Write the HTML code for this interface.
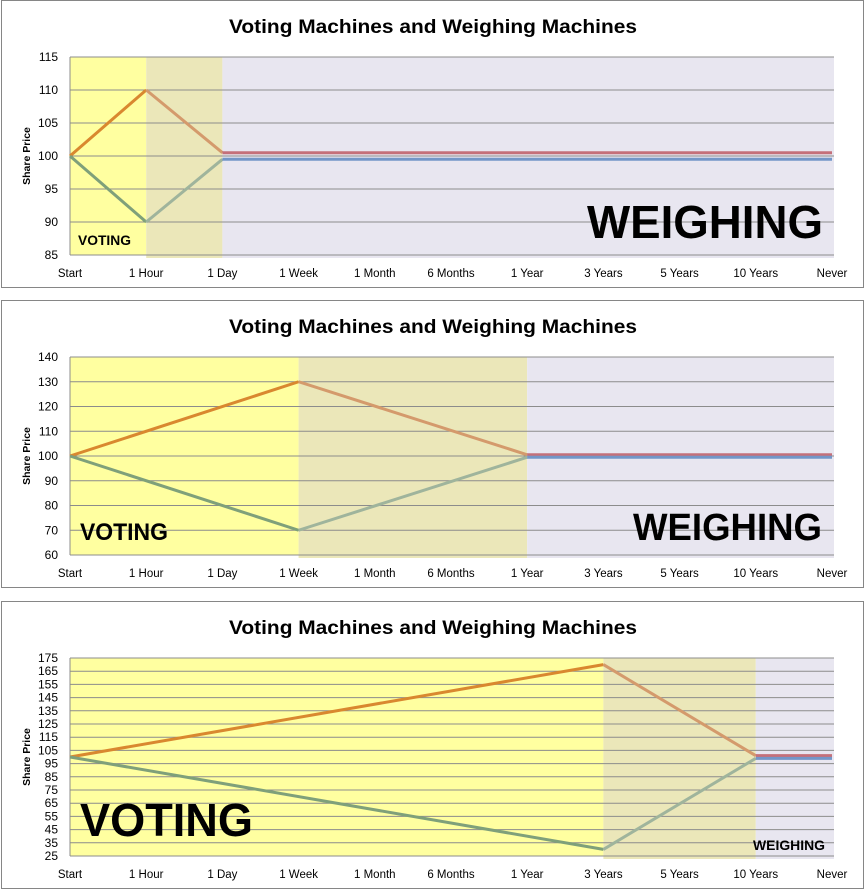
<!DOCTYPE html>
<html><head><meta charset="utf-8"><style>
html,body{margin:0;padding:0;background:#fff;}
svg{display:block;font-family:"Liberation Sans",sans-serif;}
</style></head><body>
<svg id="root" width="866" height="891" xmlns="http://www.w3.org/2000/svg"></svg>
<script>
const categories = ["Start","1 Hour","1 Day","1 Week","1 Month","6 Months","1 Year","3 Years","5 Years","10 Years","Never"];
// chart 1
const c1YTicks = [85,90,95,100,105,110,115];
const c1Bands = [0,1,2,10];
const c1UpVoting = [100,110];
const c1UpReturn = [110,100.5];
const c1UpFlat = [100.5,100.5];
const c1DownVoting = [100,90];
const c1DownReturn = [90,99.5];
const c1DownFlat = [99.5,99.5];
// chart 2
const c2YTicks = [60,70,80,90,100,110,120,130,140];
const c2Bands = [0,3,6,10];
const c2UpVoting = [100,130];
const c2UpReturn = [130,100.5];
const c2UpFlat = [100.5,100.5];
const c2DownVoting = [100,70];
const c2DownReturn = [70,99.5];
const c2DownFlat = [99.5,99.5];
// chart 3
const c3YTicks = [25,35,45,55,65,75,85,95,105,115,125,135,145,155,165,175];
const c3Bands = [0,7,9,10];
const c3UpVoting = [100,170];
const c3UpReturn = [170,101];
const c3UpFlat = [101,101];
const c3DownVoting = [100,30];
const c3DownReturn = [30,99];
const c3DownFlat = [99,99];

const NS="http://www.w3.org/2000/svg";
const root=document.getElementById('root');
function mk(tag,attrs,parent){const e=document.createElementNS(NS,tag);for(const k in attrs)e.setAttribute(k,attrs[k]);(parent||root).appendChild(e);return e;}

function drawChart(idx,y0,yTicks,bands,uv,ur,uf,dv,dr,df,labels){
  const g=mk('g',{});
  
  
  const frame=mk('rect',{x:1.5,y:y0+0.5,width:862,height:287,fill:'#fff',stroke:'#868686'},g);
  
  
  const L=70,R=834,T=y0+57,B=y0+255;
  const ymin=yTicks[0],ymax=yTicks[yTicks.length-1];
  const xs=i=>L+i*(R-L-2)/(categories.length-1);
  const ys=v=>B-(v-ymin)/(ymax-ymin)*(B-T);
  const bx=i=>i===0?L:(i===categories.length-1?R:xs(i));
  const colors=['#ffffa0','#ebe7b9','#e8e6f0'];
  const bandNames=['voting-band','transition-band','weighing-band'];
  for(let b=0;b<3;b++){
    const r=mk('rect',{x:bx(bands[b]),y:T,width:bx(bands[b+1])-bx(bands[b]),height:B-T+(b>0?3:0),fill:colors[b]},g);
    
    
  }
  yTicks.forEach(v=>{
    const l=mk('line',{x1:L,x2:R,y1:ys(v),y2:ys(v),stroke:'#8c8c8c','stroke-width':1},g);
    
    
    const t=mk('text',{x:L-12,y:ys(v)+4,'text-anchor':'end','font-size':12,fill:'#000'},g);
    t.textContent=v;
    
    
  });
  const ax=mk('line',{x1:L,x2:L,y1:T,y2:B,stroke:'#8c8c8c'},g);
  
  
  categories.forEach((c,i)=>{
    const t=mk('text',{x:xs(i),y:y0+277,'text-anchor':'middle','font-size':11.5,fill:'#000'},g);
    t.textContent=c;
    
    
  });
  const title=mk('text',{x:229,y:y0+33,'font-size':19,'font-weight':'bold',fill:'#000',textLength:408,lengthAdjust:'spacingAndGlyphs'},g);
  title.textContent='Voting Machines and Weighing Machines';
  
  
  const yt=mk('text',{x:0,y:0,'text-anchor':'middle','font-size':10.5,'font-weight':'bold',transform:`translate(30,${(T+B)/2}) rotate(-90)`},g);
  yt.textContent='Share Price';
  
  
  labels.forEach(lb=>{
    const t=mk('text',{x:lb.x,y:y0+lb.y,'font-size':lb.s,'font-weight':'bold',fill:'#000',textLength:lb.w,lengthAdjust:'spacingAndGlyphs'},g);
    t.textContent=lb.t;
    
    
  });
  const seg=(vals,i0,i1,col,name)=>{
    const p=mk('polyline',{points:`${xs(i0)},${ys(vals[0])} ${xs(i1)},${ys(vals[1])}`,fill:'none',stroke:col,'stroke-width':3},g);
    
    
  };
  const p1=bands[1],p2=bands[2],e=categories.length-1;
  seg(uv,0,p1,'#d9882f','up-voting-line');
  seg(ur,p1,p2,'#d49a6c','up-return-line');
  seg(uf,p2,e,'#c4707a','up-weighing-line');
  seg(dv,0,p1,'#7fa07a','down-voting-line');
  seg(dr,p1,p2,'#9fb49c','down-return-line');
  seg(df,p2,e,'#7396c8','down-weighing-line');
}
drawChart(0,0,c1YTicks,c1Bands,c1UpVoting,c1UpReturn,c1UpFlat,c1DownVoting,c1DownReturn,c1DownFlat,
 [{t:'VOTING',x:78,y:245,s:14,w:53,n:'voting-label'},{t:'WEIGHING',x:587,y:238,s:46,w:236,n:'weighing-label'}]);
drawChart(1,300,c2YTicks,c2Bands,c2UpVoting,c2UpReturn,c2UpFlat,c2DownVoting,c2DownReturn,c2DownFlat,
 [{t:'VOTING',x:80,y:240,s:24,w:88,n:'voting-label'},{t:'WEIGHING',x:633,y:240,s:38,w:189,n:'weighing-label'}]);
drawChart(2,601,c3YTicks,c3Bands,c3UpVoting,c3UpReturn,c3UpFlat,c3DownVoting,c3DownReturn,c3DownFlat,
 [{t:'VOTING',x:80,y:235,s:46,w:173,n:'voting-label'},{t:'WEIGHING',x:753,y:249,s:14,w:72,n:'weighing-label'}]);
</script>
</body></html>
